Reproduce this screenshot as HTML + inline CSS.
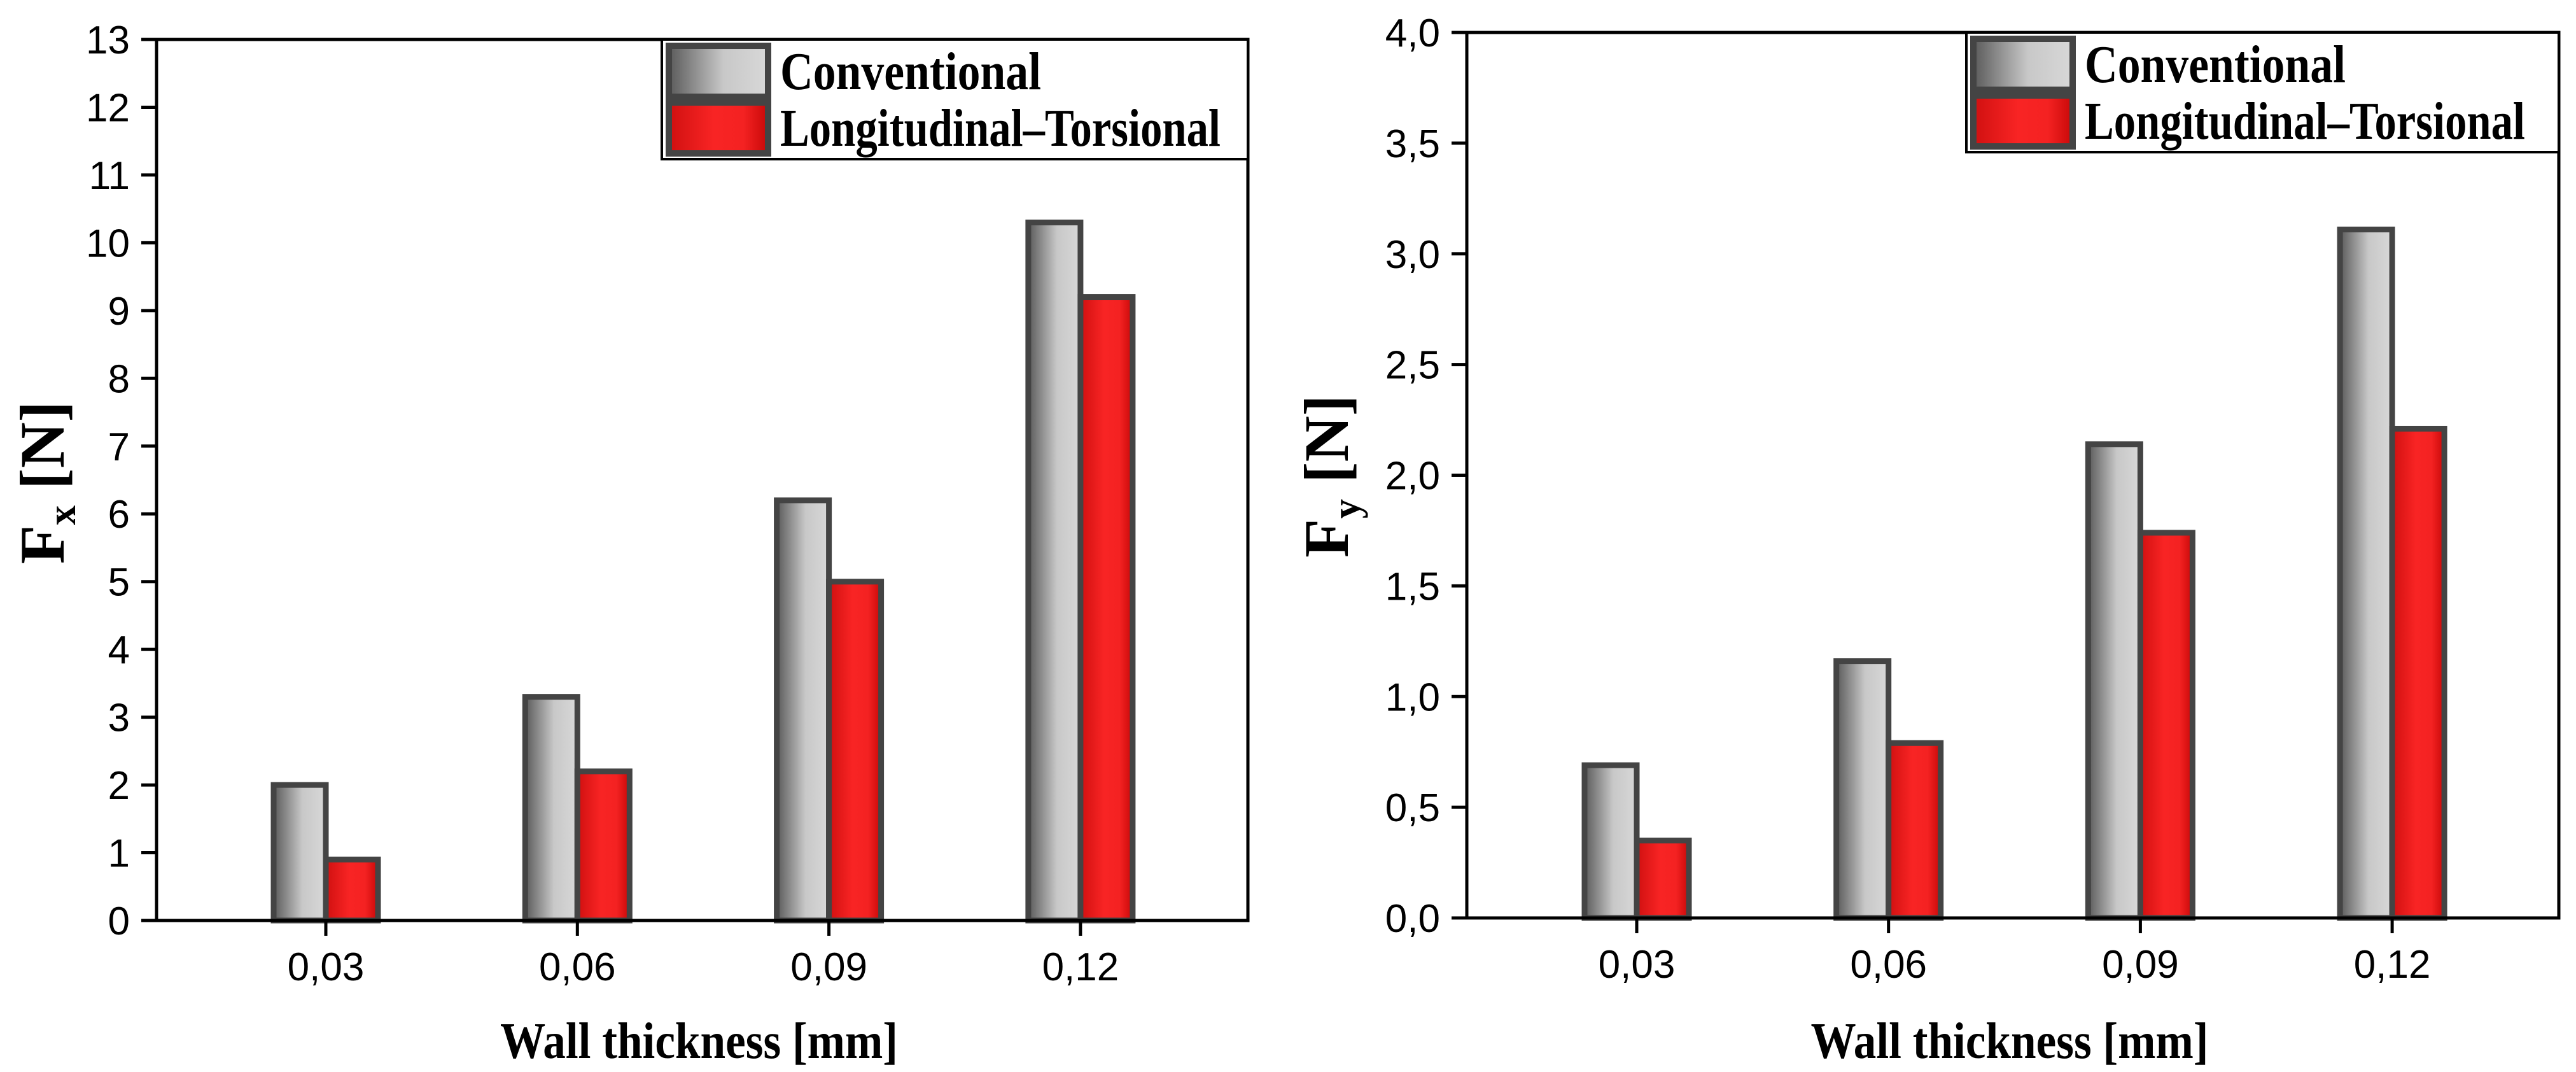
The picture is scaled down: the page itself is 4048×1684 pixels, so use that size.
<!DOCTYPE html>
<html><head><meta charset="utf-8"><style>
html,body{margin:0;padding:0;background:#fff;}
svg{display:block;}
</style></head><body>
<svg id="fig" width="4048" height="1684" viewBox="0 0 4048 1684" xmlns="http://www.w3.org/2000/svg">
<defs>
<linearGradient id="gGray" x1="0" x2="1" y1="0" y2="0"><stop offset="0" stop-color="#5a5a5a"/><stop offset="0.55" stop-color="#c8c8c8"/><stop offset="1" stop-color="#d8d8d8"/></linearGradient>
<linearGradient id="gRed" x1="0" x2="1" y1="0" y2="0"><stop offset="0" stop-color="#d01010"/><stop offset="0.45" stop-color="#f82424"/><stop offset="0.75" stop-color="#f42222"/><stop offset="1" stop-color="#c80808"/></linearGradient>
</defs>
</svg>
<script>
const categories = ["0,03","0,06","0,09","0,12"];
const fxConventional = [2.0, 3.3, 6.2, 10.3];
const fxLongTors = [0.9, 2.2, 5.0, 9.2];
const fyConventional = [0.69, 1.16, 2.14, 3.11];
const fyLongTors = [0.35, 0.79, 1.74, 2.21];
const fxTicks = ["0","1","2","3","4","5","6","7","8","9","10","11","12","13"];
const fyTicks = ["0,0","0,5","1,0","1,5","2,0","2,5","3,0","3,5","4,0"];
const seriesNames = ["Conventional","Longitudinal\u2013Torsional"];

const NS = "http://www.w3.org/2000/svg";
const svg = document.getElementById('fig');
function mk(tag, attrs, parent, text){
  const e = document.createElementNS(NS, tag);
  for (const k in attrs) e.setAttribute(k, attrs[k]);
  if (text !== undefined) e.textContent = text;
  (parent || svg).appendChild(e);
  return e;
}

function chart(cfg){
  const g = mk('g', {});
  
  
  const L = cfg.left, R = cfg.right, T = cfg.top, B = cfg.bottom;
  const yMax = cfg.yMax;
  const y = v => B - (v / yMax) * (B - T);
  const x0 = cfg.firstTick;
  const xc = i => x0 + i * cfg.catStep;

  const bw = 82;
  categories.forEach((c, i) => {
    const cx = xc(i);
    const r1 = mk('rect', {x: cx - bw, y: y(cfg.s1[i]), width: bw, height: B - y(cfg.s1[i]), fill: 'url(#gGray)', stroke: '#444', 'stroke-width': 9}, g);
    
    
    const r2 = mk('rect', {x: cx, y: y(cfg.s2[i]), width: bw, height: B - y(cfg.s2[i]), fill: 'url(#gRed)', stroke: '#444', 'stroke-width': 9}, g);
    
    
  });

  const frame = mk('path', {d: `M${L} ${T} H${R} V${B} H${L} Z`, fill: 'none', stroke: '#000', 'stroke-width': 5}, g);
  
  

  cfg.ticks.forEach((t, i) => {
    const v = i * cfg.tickStep;
    const yy = y(v);
    const tl = mk('line', {x1: L - 24, x2: L, y1: yy, y2: yy, stroke: '#000', 'stroke-width': 5}, g);
    
    
    const tx = mk('text', {x: L - 42, y: yy + 22, 'text-anchor': 'end', 'font-family': 'Liberation Sans, sans-serif', 'font-size': 62}, g, t);
    
    
  });
  categories.forEach((c, i) => {
    const cx = xc(i);
    const tl = mk('line', {x1: cx, x2: cx, y1: B, y2: B + 24, stroke: '#000', 'stroke-width': 5}, g);
    
    
    const tx = mk('text', {x: cx, y: B + 94, 'text-anchor': 'middle', 'font-family': 'Liberation Sans, sans-serif', 'font-size': 62}, g, c);
    
    
  });

  const xt = mk('text', {x: (L + R) / 2 - 5, y: 1662, 'text-anchor': 'middle', 'font-family': 'Liberation Serif, serif', 'font-weight': 'bold', 'font-size': 80, textLength: 625, lengthAdjust: 'spacingAndGlyphs'}, g, 'Wall thickness [mm]');
  
  

  const yt = mk('text', {transform: `translate(${cfg.ytx},${cfg.yty}) rotate(-90)`, 'text-anchor': 'middle', 'font-family': 'Liberation Serif, serif', 'font-weight': 'bold', 'font-size': 100}, g);
  
  
  mk('tspan', {}, yt, 'F');
  mk('tspan', {'font-size': 62, dy: 18}, yt, cfg.sub);
  mk('tspan', {dy: -18}, yt, ' [N]');

  const lg = mk('g', {}, g);
  
  
  const lx = cfg.legX, ly = T;
  mk('rect', {x: lx, y: ly, width: R - lx, height: 188, fill: '#fff', stroke: '#000', 'stroke-width': 4}, lg);
  const fills = ['url(#gGray)', 'url(#gRed)'];
  seriesNames.forEach((n, i) => {
    const sy = ly + 10 + i * 89;
    const sw = mk('rect', {x: lx + 11, y: sy, width: 156, height: 80, fill: fills[i], stroke: '#444', 'stroke-width': 10}, lg);
    
    
    const t = mk('text', {x: lx + 186, y: sy + 68, 'font-family': 'Liberation Serif, serif', 'font-weight': 'bold', 'font-size': 84, textLength: i === 0 ? 410 : 692, lengthAdjust: 'spacingAndGlyphs'}, lg, n);
    
    
  });
}

chart({name: 'fx-chart', left: 246, right: 1961, top: 62, bottom: 1446, yMax: 13, tickStep: 1, ticks: fxTicks,
  s1: fxConventional, s2: fxLongTors, firstTick: 512, catStep: 395.3, sub: 'x', ytx: 100, yty: 758, legX: 1040});
chart({name: 'fy-chart', left: 2305, right: 4021, top: 51, bottom: 1442, yMax: 4, tickStep: 0.5, ticks: fyTicks,
  s1: fyConventional, s2: fyLongTors, firstTick: 2572, catStep: 395.7, sub: 'y', ytx: 2118, yty: 748, legX: 3090});
</script>
</body></html>
